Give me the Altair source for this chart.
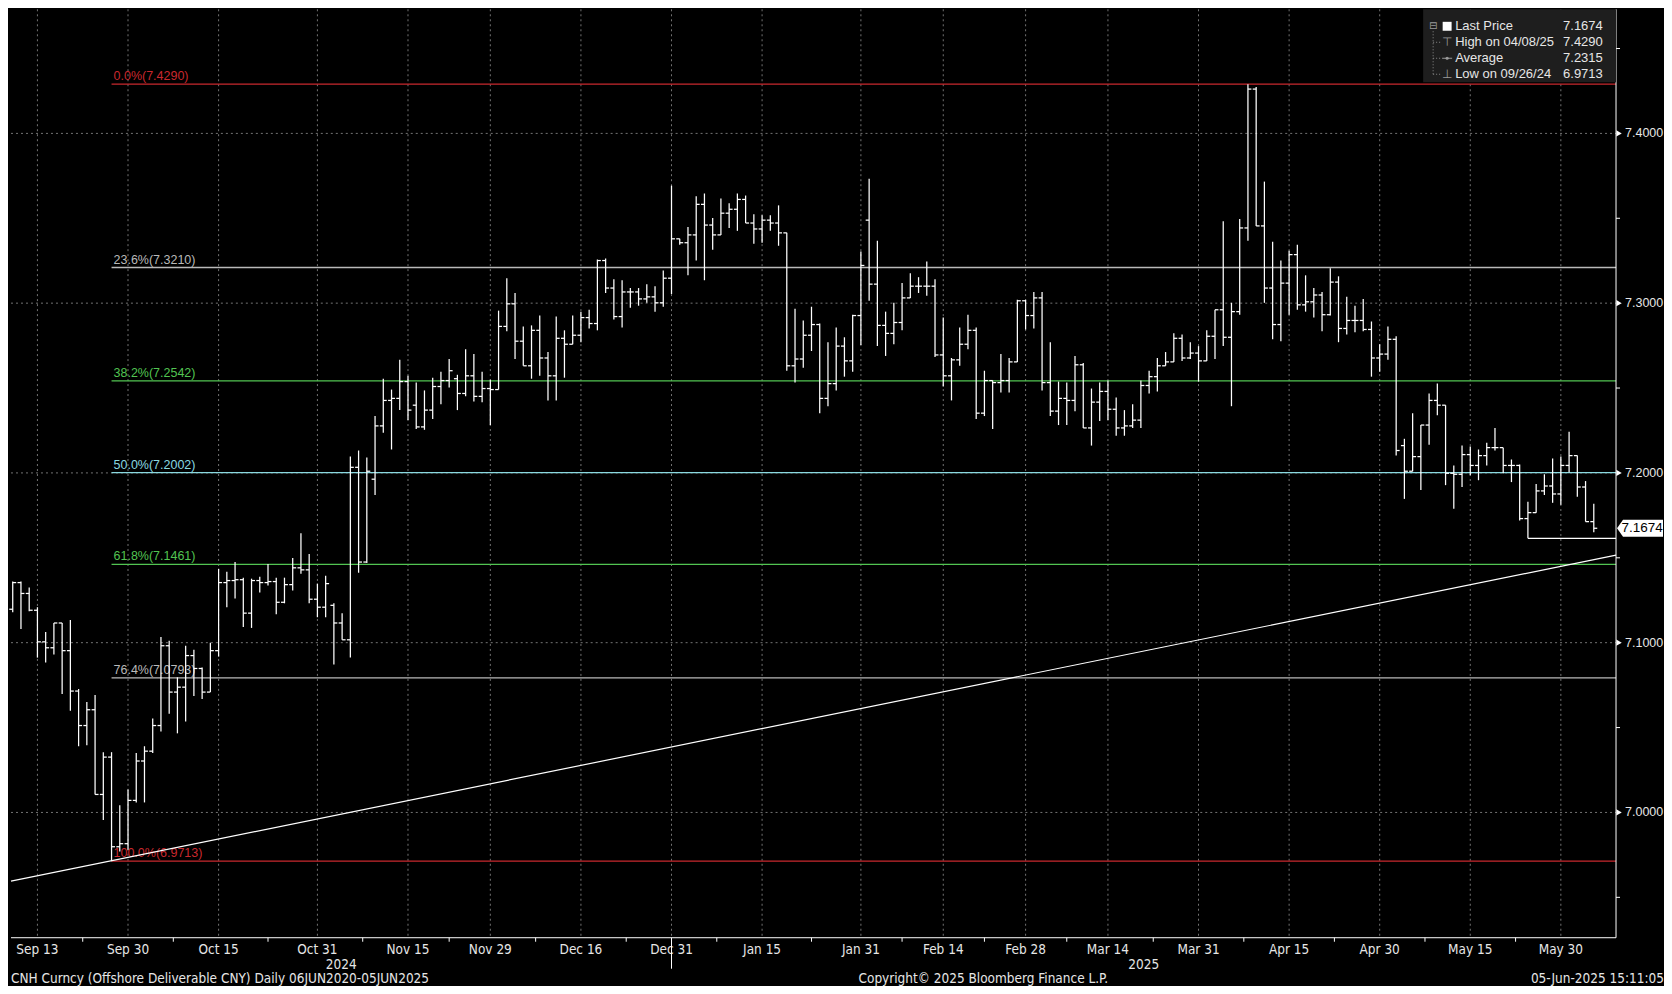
import altair as alt
import pandas as pd

# ---------------- data ----------------
open_ = [7.1197,7.1354,7.1290,7.1191,7.1005,7.0970,7.1116,7.0953,7.0715,7.0512,
         7.0605,7.0106,7.0326,6.9798,6.9816,7.0071,7.0303,7.0361,7.0512,7.0982,
         7.0709,7.0738,7.0924,7.0848,7.0709,7.0953,7.1354,7.1366,7.1371,7.1174,
         7.1366,7.1354,7.1360,7.1238,7.1342,7.1441,7.1429,7.1256,7.1209,7.1220,
         7.1116,7.1017,7.2033,7.1475,7.1963,7.2277,7.2427,7.2439,7.2538,7.2399,
         7.2271,7.2370,7.2509,7.2544,7.2555,7.2468,7.2572,7.2451,7.2497,7.2491,
         7.2863,7.2996,7.2776,7.2631,7.2840,7.2677,7.2572,7.2793,7.2758,7.2811,
         7.2915,7.2880,7.3251,7.3089,7.2921,7.3066,7.3066,7.3025,7.3037,7.3002,
         7.3147,7.3379,7.3356,7.3402,7.3582,7.3460,7.3402,7.3530,7.3553,7.3611,
         7.3472,7.3437,7.3489,7.3472,7.3414,7.2631,7.2671,7.2811,7.2874,7.2439,
         7.2526,7.2747,7.2660,7.2927,7.3489,7.3112,7.2869,7.2822,7.2886,7.3031,
         7.3100,7.3100,7.3100,7.2695,7.2572,7.2666,7.2758,7.2840,7.2352,7.2544,
         7.2532,7.2544,7.2654,7.3014,7.2927,7.3031,7.2532,7.2364,7.2439,7.2427,
         7.2637,7.2265,7.2417,7.2480,7.2375,7.2265,7.2277,7.2311,7.2515,7.2567,
         7.2631,7.2654,7.2793,7.2677,7.2706,7.2660,7.2805,7.2961,7.2799,7.2950,
         7.3443,7.4261,7.3455,7.3089,7.2874,7.3118,7.3286,7.2990,7.3008,7.3048,
         7.2932,7.3124,7.2851,7.2898,7.2898,7.2845,7.2677,7.2700,7.2787,7.2161,
         7.2010,7.2096,7.2282,7.2427,7.2399,7.1998,7.1992,7.2108,7.2044,7.2102,
         7.2149,7.2149,7.2044,7.2044,7.1731,7.1766,7.1894,7.1923,7.1876,7.2044,
         7.2102,7.1917,7.1713]
high_ = [7.1360,7.1360,7.1325,7.1209,7.1063,7.1116,7.1116,7.1133,7.0727,7.0651,
         7.0692,7.0355,7.0355,7.0042,7.0135,7.0350,7.0390,7.0553,7.1034,7.1011,
         7.0796,7.0982,7.0959,7.0854,7.0999,7.1435,7.1418,7.1475,7.1383,7.1377,
         7.1389,7.1464,7.1383,7.1383,7.1499,7.1644,7.1522,7.1348,7.1394,7.1232,
         7.1174,7.2096,7.2132,7.2091,7.2335,7.2555,7.2491,7.2666,7.2572,7.2532,
         7.2486,7.2561,7.2596,7.2671,7.2578,7.2729,7.2700,7.2596,7.2549,7.2956,
         7.3147,7.3060,7.2863,7.2869,7.2927,7.2712,7.2921,7.2840,7.2927,7.2950,
         7.2961,7.3257,7.3263,7.3141,7.3135,7.3089,7.3089,7.3112,7.3100,7.3193,
         7.3692,7.3379,7.3449,7.3629,7.3646,7.3501,7.3617,7.3588,7.3646,7.3634,
         7.3524,7.3518,7.3518,7.3576,7.3414,7.2967,7.2898,7.2979,7.2880,7.2770,
         7.2857,7.2799,7.2932,7.3304,7.3733,7.3367,7.2950,7.3002,7.3118,7.3176,
         7.3153,7.3246,7.3141,7.2915,7.2677,7.2857,7.2932,7.2857,7.2602,7.2544,
         7.2700,7.2677,7.3020,7.3020,7.3066,7.3066,7.2770,7.2538,7.2532,7.2689,
         7.2648,7.2497,7.2532,7.2544,7.2445,7.2370,7.2404,7.2544,7.2602,7.2677,
         7.2712,7.2822,7.2816,7.2770,7.2747,7.2840,7.2961,7.3483,7.3002,7.3495,
         7.4290,7.4273,7.3716,7.3362,7.3251,7.3309,7.3344,7.3164,7.3089,7.3066,
         7.3205,7.3158,7.3037,7.2985,7.3025,7.2892,7.2758,7.2863,7.2805,7.2201,
         7.2352,7.2282,7.2468,7.2526,7.2399,7.2044,7.2161,7.2155,7.2138,7.2178,
         7.2265,7.2149,7.2079,7.2050,7.1830,7.1934,7.1992,7.2085,7.2096,7.2242,
         7.2102,7.1952,7.1818]
low_ = [7.1179,7.1081,7.1185,7.0912,7.0883,7.0930,7.0698,7.0599,7.0390,7.0396,
        7.0106,6.9955,6.9713,6.9770,6.9781,7.0059,7.0059,7.0350,7.0477,7.0582,
        7.0466,7.0535,7.0686,7.0669,7.0709,7.0918,7.1209,7.1261,7.1092,7.1087,
        7.1296,7.1337,7.1168,7.1232,7.1308,7.1406,7.1232,7.1150,7.1150,7.0872,
        7.1017,7.0912,7.1412,7.1470,7.1870,7.2236,7.2138,7.2370,7.2311,7.2259,
        7.2254,7.2317,7.2404,7.2503,7.2370,7.2451,7.2421,7.2417,7.2282,7.2491,
        7.2834,7.2671,7.2631,7.2555,7.2572,7.2427,7.2427,7.2561,7.2758,7.2770,
        7.2851,7.2840,7.3060,7.2904,7.2857,7.2973,7.2985,7.3002,7.2950,7.2979,
        7.3054,7.3344,7.3164,7.3251,7.3135,7.3315,7.3402,7.3443,7.3426,7.3472,
        7.3350,7.3356,7.3426,7.3338,7.2602,7.2532,7.2619,7.2718,7.2352,7.2393,
        7.2486,7.2567,7.2596,7.2753,7.3014,7.2747,7.2689,7.2758,7.2840,7.3031,
        7.3060,7.3043,7.2683,7.2509,7.2427,7.2631,7.2729,7.2317,7.2335,7.2259,
        7.2474,7.2474,7.2654,7.2845,7.2851,7.2486,7.2335,7.2282,7.2282,7.2364,
        7.2265,7.2161,7.2306,7.2311,7.2219,7.2219,7.2265,7.2265,7.2468,7.2480,
        7.2631,7.2654,7.2660,7.2671,7.2538,7.2660,7.2671,7.2747,7.2393,7.2932,
        7.3367,7.3455,7.3002,7.2787,7.2776,7.2932,7.2961,7.2950,7.2915,7.2834,
        7.2927,7.2770,7.2816,7.2828,7.2834,7.2567,7.2596,7.2666,7.2102,7.1847,
        7.2010,7.1899,7.2166,7.2340,7.1928,7.1789,7.1917,7.1986,7.1957,7.2044,
        7.2132,7.1998,7.1946,7.1719,7.1615,7.1766,7.1870,7.1824,7.1812,7.2004,
        7.1859,7.1713,7.1650]
close_ = [7.1354,7.1290,7.1191,7.1005,7.0970,7.1116,7.0953,7.0715,7.0512,7.0605,
          7.0106,7.0326,6.9798,6.9816,7.0071,7.0303,7.0361,7.0512,7.0982,7.0709,
          7.0738,7.0924,7.0848,7.0709,7.0953,7.1354,7.1366,7.1371,7.1174,7.1366,
          7.1354,7.1360,7.1238,7.1342,7.1441,7.1429,7.1256,7.1209,7.1348,7.1116,
          7.1017,7.2033,7.1475,7.2010,7.2277,7.2427,7.2439,7.2538,7.2370,7.2271,
          7.2370,7.2509,7.2544,7.2602,7.2468,7.2572,7.2451,7.2497,7.2491,7.2863,
          7.2996,7.2776,7.2631,7.2840,7.2677,7.2572,7.2793,7.2758,7.2811,7.2915,
          7.2880,7.3251,7.3089,7.2921,7.3066,7.3066,7.3025,7.3037,7.3002,7.3147,
          7.3379,7.3356,7.3402,7.3582,7.3460,7.3402,7.3530,7.3553,7.3611,7.3472,
          7.3437,7.3489,7.3472,7.3414,7.2631,7.2671,7.2811,7.2874,7.2439,7.2526,
          7.2747,7.2660,7.2927,7.3222,7.3112,7.2869,7.2822,7.2886,7.3031,7.3100,
          7.3100,7.3100,7.2695,7.2572,7.2666,7.2758,7.2840,7.2352,7.2544,7.2532,
          7.2544,7.2654,7.3014,7.2927,7.3031,7.2532,7.2364,7.2439,7.2427,7.2637,
          7.2265,7.2417,7.2480,7.2375,7.2265,7.2277,7.2311,7.2515,7.2567,7.2631,
          7.2654,7.2793,7.2677,7.2706,7.2660,7.2805,7.2961,7.2799,7.2950,7.3443,
          7.4261,7.3455,7.3089,7.2874,7.3118,7.3286,7.2990,7.3008,7.3048,7.2932,
          7.3124,7.2851,7.2898,7.2898,7.2845,7.2677,7.2700,7.2787,7.2132,7.2010,
          7.2096,7.2282,7.2427,7.2399,7.1998,7.1992,7.2108,7.2044,7.2102,7.2149,
          7.2149,7.2044,7.2044,7.1731,7.1766,7.1894,7.1923,7.1876,7.2044,7.2102,
          7.1917,7.1713,7.1674]

tick_idx = [3, 14, 25, 37, 48, 58, 69, 80, 91, 103, 113, 123, 133, 144, 155, 166, 177, 188]
tick_lbl = ["Sep 13", "Sep 30", "Oct 15", "Oct 31", "Nov 15", "Nov 29", "Dec 16", "Dec 31", "Jan 15",
            "Jan 31", "Feb 14", "Feb 28", "Mar 14", "Mar 31", "Apr 15", "Apr 30", "May 15", "May 30"]
year_lbl = ["2024", "2025"]
year_break = 80  # Dec 31 bar

fib_pct = ["0.0%", "23.6%", "38.2%", "50.0%", "61.8%", "76.4%", "100.0%"]
fib_val = [7.4290, 7.3210, 7.2542, 7.2002, 7.1461, 7.0793, 6.9713]
fib_col = ["#c8282e", "#b9b9b9", "#52c452", "#8ad9e0", "#52c452", "#b9b9b9", "#c8282e"]
fib_start = 12  # bar of the 09/26/24 low

trend_x = [-0.21, 194.7]
trend_y = [6.9595, 7.1516]
support_start = 184
support_val = 7.1615
last_price = 7.1674

legend_lbl = ["Last Price", "High on 04/08/25", "Average", "Low on 09/26/24"]
legend_val = [7.1674, 7.4290, 7.2315, 6.9713]

y_major = [7.0, 7.1, 7.2, 7.3, 7.4]
y_minor = [6.95, 7.05, 7.15, 7.25, 7.35, 7.45]

# ---------------- layout ----------------
W, H = 1606, 929
XMIN, XMAX = -0.21, 194.7
YMIN, YMAX = 6.9262, 7.4731
NARROW = "Liberation Sans Narrow, DejaVu Sans Condensed, Arial Narrow, sans-serif"
SANS = "Liberation Sans, Arial, sans-serif"
GLYPH = "DejaVu Sans, sans-serif"
TXT = "#e6e6e6"
GRID = "#737373"
BAR_W = 1.25

n = len(close_)
bars = pd.DataFrame({
    "i": list(range(n)),
    "date": pd.bdate_range("2024-09-10", periods=n).strftime("%Y-%m-%d"),
    "open": open_, "high": high_, "low": low_, "close": close_,
})

xs = alt.Scale(domain=[XMIN, XMAX], nice=False, zero=False)
ys = alt.Scale(domain=[YMIN, YMAX], nice=False, zero=False)


def X(f):
    return alt.X(f, scale=xs, axis=None)


def Y(f):
    return alt.Y(f, scale=ys, axis=None)


def one():
    return pd.DataFrame({"a": [0]})


def label(txt, x, y, **kw):
    return alt.Chart(pd.DataFrame({"t": [txt]})).mark_text(**kw).encode(
        text="t:N", x=alt.value(x), y=alt.value(y))


layers = []

# ---- grid (drawn by hand) ----
xt = pd.DataFrame({"i": tick_idx, "lbl": tick_lbl})
yt = pd.DataFrame({"v": y_major, "t": [f"{v:.4f}" for v in y_major]})
layers.append(alt.Chart(xt).mark_rule(color=GRID, strokeDash=[2, 3], strokeWidth=1).encode(
    x=X("i:Q"), y=alt.value(0), y2=alt.value(H)))
layers.append(alt.Chart(yt).mark_rule(color=GRID, strokeDash=[2, 3], strokeWidth=1).encode(
    y=Y("v:Q"), x=alt.value(0), x2=alt.value(W)))

# ---- fibonacci levels ----
fib = pd.DataFrame({"pct": fib_pct, "val": fib_val, "col": fib_col})
fib["x0"] = fib_start
fib["x1"] = XMAX
fib["lbl"] = fib["pct"] + "(" + fib["val"].map("{:.4f}".format) + ")"
layers.append(alt.Chart(fib).mark_rule(strokeWidth=1.3).encode(
    x=X("x0:Q"), x2="x1:Q", y=Y("val:Q"), color=alt.Color("col:N", scale=None)))
layers.append(alt.Chart(fib).mark_text(align="left", baseline="bottom", dx=2, dy=-1, font=SANS,
                                       fontSize=12.5).encode(
    x=X("x0:Q"), y=Y("val:Q"), text="lbl:N", color=alt.Color("col:N", scale=None)))

# ---- trend line and support line ----
layers.append(alt.Chart(pd.DataFrame({"x": trend_x, "y": trend_y})).mark_line(
    color="white", strokeWidth=1.2).encode(x=X("x:Q"), y=Y("y:Q")))
layers.append(alt.Chart(pd.DataFrame({"x0": [support_start], "x1": [XMAX], "y": [support_val]})).mark_rule(
    color="white", strokeWidth=1.2).encode(x=X("x0:Q"), x2="x1:Q", y=Y("y:Q")))

# ---- OHLC bars ----
layers.append(alt.Chart(bars).mark_rule(color="white", strokeWidth=BAR_W).encode(
    x=X("i:Q"), y=Y("low:Q"), y2="high:Q"))
layers.append(alt.Chart(bars).transform_calculate(xo="datum.i - 0.42").mark_rule(
    color="white", strokeWidth=BAR_W).encode(x=X("xo:Q"), x2="i:Q", y=Y("open:Q")))
layers.append(alt.Chart(bars).transform_calculate(xc="datum.i + 0.42").mark_rule(
    color="white", strokeWidth=BAR_W).encode(x=X("i:Q"), x2="xc:Q", y=Y("close:Q")))

# ---- axes (drawn by hand) ----
layers.append(alt.Chart(one()).mark_rule(color="white", strokeWidth=1).encode(
    x=alt.value(0), x2=alt.value(W), y=alt.value(H)))
layers.append(alt.Chart(one()).mark_rule(color="white", strokeWidth=1).encode(
    x=alt.value(W), y=alt.value(0), y2=alt.value(H)))
layers.append(alt.Chart(xt).mark_text(color=TXT, font=NARROW, fontSize=13.5, baseline="middle").encode(
    x=X("i:Q"), y=alt.value(H + 12), text="lbl:N"))
layers.append(alt.Chart(yt).mark_text(color=TXT, font=SANS, fontSize=12.5, align="left",
                                      baseline="middle").encode(
    x=alt.value(W + 9), y=Y("v:Q"), text="t:N"))
layers.append(alt.Chart(yt).mark_point(
    shape="triangle-right", filled=True, color="white", size=40, opacity=1).encode(
    x=alt.value(W + 3), y=Y("v:Q")))
layers.append(alt.Chart(pd.DataFrame({"v": y_minor})).mark_rule(color="white").encode(
    x=alt.value(W), x2=alt.value(W + 4), y=Y("v:Q")))
mids = [(a + b) / 2 for a, b in zip(tick_idx[:-1], tick_idx[1:])]
layers.append(alt.Chart(pd.DataFrame({"m": mids})).mark_rule(color="white").encode(
    x=X("m:Q"), y=alt.value(H), y2=alt.value(H + 4)))

# ---- last price tag ----
tag_path = "M-1,0L-0.74,-0.37L1,-0.37L1,0.37L-0.74,0.37Z"
layers.append(alt.Chart(pd.DataFrame({"v": [last_price]})).mark_point(
    shape=tag_path, filled=True, color="white", size=2116, opacity=1).encode(
    x=alt.value(W + 24), y=Y("v:Q")))
layers.append(alt.Chart(pd.DataFrame({"v": [last_price], "t": [f"{last_price:.4f}"]})).mark_text(
    color="black", font=SANS, fontSize=13.5, align="center", baseline="middle").encode(
    x=alt.value(W + 26), y=Y("v:Q"), text="t:N"))

# ---- year labels and separator ----
yr = pd.DataFrame({"year": year_lbl, "xm": [(XMIN + year_break) / 2, (year_break + XMAX) / 2]})
layers.append(alt.Chart(yr).mark_text(color=TXT, font=NARROW, fontSize=13.5, baseline="middle").encode(
    x=X("xm:Q"), y=alt.value(H + 27), text="year:N"))
layers.append(alt.Chart(pd.DataFrame({"x": [year_break]})).mark_rule(color="white").encode(
    x=X("x:Q"), y=alt.value(H), y2=alt.value(H + 31)))

# ---- footer ----
layers.append(label("CNH Curncy (Offshore Deliverable CNY)  Daily 06JUN2020-05JUN2025", 0, H + 41,
                    align="left", baseline="middle", font=NARROW, fontSize=13.5, color=TXT))
layers.append(label("Copyright\u00a9 2025 Bloomberg Finance L.P.", 848, H + 41,
                    align="left", baseline="middle", font=NARROW, fontSize=13.5, color=TXT))
layers.append(label("05-Jun-2025 15:11:05", W + 48, H + 41,
                    align="right", baseline="middle", font=NARROW, fontSize=13.5, color=TXT))

# ---- legend box ----
BX0 = 1413
rows = [17, 33, 49, 65]
layers.append(alt.Chart(one()).mark_rect(color="#1e1e1e").encode(
    x=alt.value(BX0), x2=alt.value(W), y=alt.value(0), y2=alt.value(73)))
layers.append(alt.Chart(one()).mark_rule(color="#8a8a8a", strokeDash=[1, 2]).encode(
    x=alt.value(BX0 + 10), y=alt.value(rows[0] + 5), y2=alt.value(rows[3])))
for r in rows[1:]:
    layers.append(alt.Chart(one()).mark_rule(color="#8a8a8a", strokeDash=[1, 2]).encode(
        x=alt.value(BX0 + 10), x2=alt.value(BX0 + 19), y=alt.value(r)))
layers.append(label("\u229f", BX0 + 10, rows[0], align="center", baseline="middle", font=GLYPH,
                    fontSize=10, color="#9a9a9a"))
layers.append(alt.Chart(one()).mark_point(
    shape="square", filled=True, color="white", size=80, opacity=1).encode(
    x=alt.value(BX0 + 24), y=alt.value(rows[0])))
layers.append(label("\u22a4", BX0 + 24, rows[1], align="center", baseline="middle", font=GLYPH,
                    fontSize=12, color="#9a9a9a"))
layers.append(alt.Chart(one()).mark_rule(color="#9a9a9a").encode(
    x=alt.value(BX0 + 19), x2=alt.value(BX0 + 29), y=alt.value(rows[2])))
layers.append(alt.Chart(one()).mark_point(
    shape="circle", filled=True, color="#9a9a9a", size=10, opacity=1).encode(
    x=alt.value(BX0 + 24), y=alt.value(rows[2])))
layers.append(label("\u22a5", BX0 + 24, rows[3], align="center", baseline="middle", font=GLYPH,
                    fontSize=12, color="#9a9a9a"))
for r, t, v in zip(rows, legend_lbl, legend_val):
    layers.append(label(t, BX0 + 32, r, align="left", baseline="middle", font=SANS, fontSize=13, color=TXT))
    layers.append(label(f"{v:.4f}", BX0 + 140, r, align="left", baseline="middle", font=SANS,
                        fontSize=13, color=TXT))

chart = alt.layer(*layers).properties(
    width=W, height=H, padding=0, background="black"
).configure_view(strokeWidth=0)

chart.save("out.html", embed_options={"renderer": "svg", "actions": False})
